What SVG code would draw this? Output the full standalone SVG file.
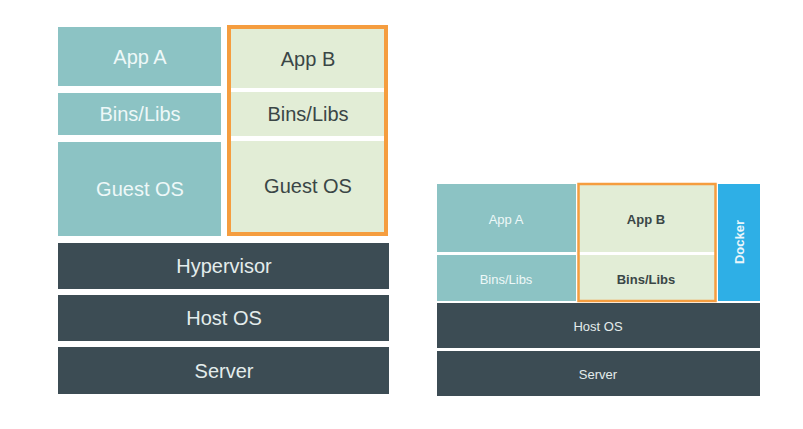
<svg xmlns="http://www.w3.org/2000/svg" width="803" height="429" viewBox="0 0 803 429">
<style>
text{font-family:"Liberation Sans",Arial,sans-serif;text-anchor:middle;dominant-baseline:central}
.teal{fill:#8CC3C4}
.green{fill:#E2EDD6}
.dark{fill:#3C4C54}
.blue{fill:#2EAFE6}
.tl{fill:#EEF8F8}
.tg{fill:#3A4646}
.td{fill:#E4ECEC}
.big{font-size:20px}
.small{font-size:13px}
.sb{font-weight:bold}
.frame{fill:none;stroke:#F59D3F}
</style>
<rect width="803" height="429" fill="#FFFFFF"/>
<g id="vm">
<g id="vm-appA"><rect class="teal" x="58" y="27" width="163" height="59"/><text class="tl big" x="140" y="57">App A</text></g>
<g id="vm-binsA"><rect class="teal" x="58" y="93" width="163" height="42"/><text class="tl big" x="140" y="114">Bins/Libs</text></g>
<g id="vm-guestA"><rect class="teal" x="58" y="142" width="163" height="94"/><text class="tl big" x="140" y="189">Guest OS</text></g>
<g id="vm-appB"><rect class="green" x="229" y="27" width="157" height="61"/><text class="tg big" x="308" y="59">App B</text></g>
<g id="vm-binsB"><rect class="green" x="229" y="92" width="157" height="44"/><text class="tg big" x="308" y="114">Bins/Libs</text></g>
<g id="vm-guestB"><rect class="green" x="229" y="141" width="157" height="93"/><text class="tg big" x="308" y="186">Guest OS</text></g>
<g id="vm-frameB"><rect class="frame" stroke-width="4" x="229" y="27" width="157" height="207"/></g>
<g id="vm-hypervisor"><rect class="dark" x="58" y="243" width="331" height="46"/><text class="td big" x="224" y="266">Hypervisor</text></g>
<g id="vm-hostos"><rect class="dark" x="58" y="295" width="331" height="46"/><text class="td big" x="224" y="318">Host OS</text></g>
<g id="vm-server"><rect class="dark" x="58" y="347" width="331" height="47"/><text class="td big" x="224" y="371">Server</text></g>
</g>
<g id="docker">
<g id="ct-appA"><rect class="teal" x="437" y="184" width="139" height="68"/><text class="tl small" x="506" y="219">App A</text></g>
<g id="ct-binsA"><rect class="teal" x="437" y="255" width="139" height="46"/><text class="tl small" x="506" y="279">Bins/Libs</text></g>
<g id="ct-appB"><rect class="green" x="578" y="184" width="137" height="68"/><text class="tg small sb" x="646" y="219">App B</text></g>
<g id="ct-binsB"><rect class="green" x="578" y="255" width="137" height="46"/><text class="tg small sb" x="646" y="279">Bins/Libs</text></g>
<g id="ct-frameB"><rect class="frame" stroke-width="2.5" x="578.5" y="184" width="137" height="117"/></g>
<g id="ct-docker"><rect class="blue" x="718" y="184" width="42" height="117"/><text class="small sb" fill="#EAF6FB" transform="translate(739 242) rotate(-90)" x="0" y="0">Docker</text></g>
<g id="ct-hostos"><rect class="dark" x="437" y="303" width="323" height="45"/><text class="td small" x="598" y="326">Host OS</text></g>
<g id="ct-server"><rect class="dark" x="437" y="351" width="323" height="45"/><text class="td small" x="598" y="374">Server</text></g>
</g>
<g id="connectors"/>
</svg>
